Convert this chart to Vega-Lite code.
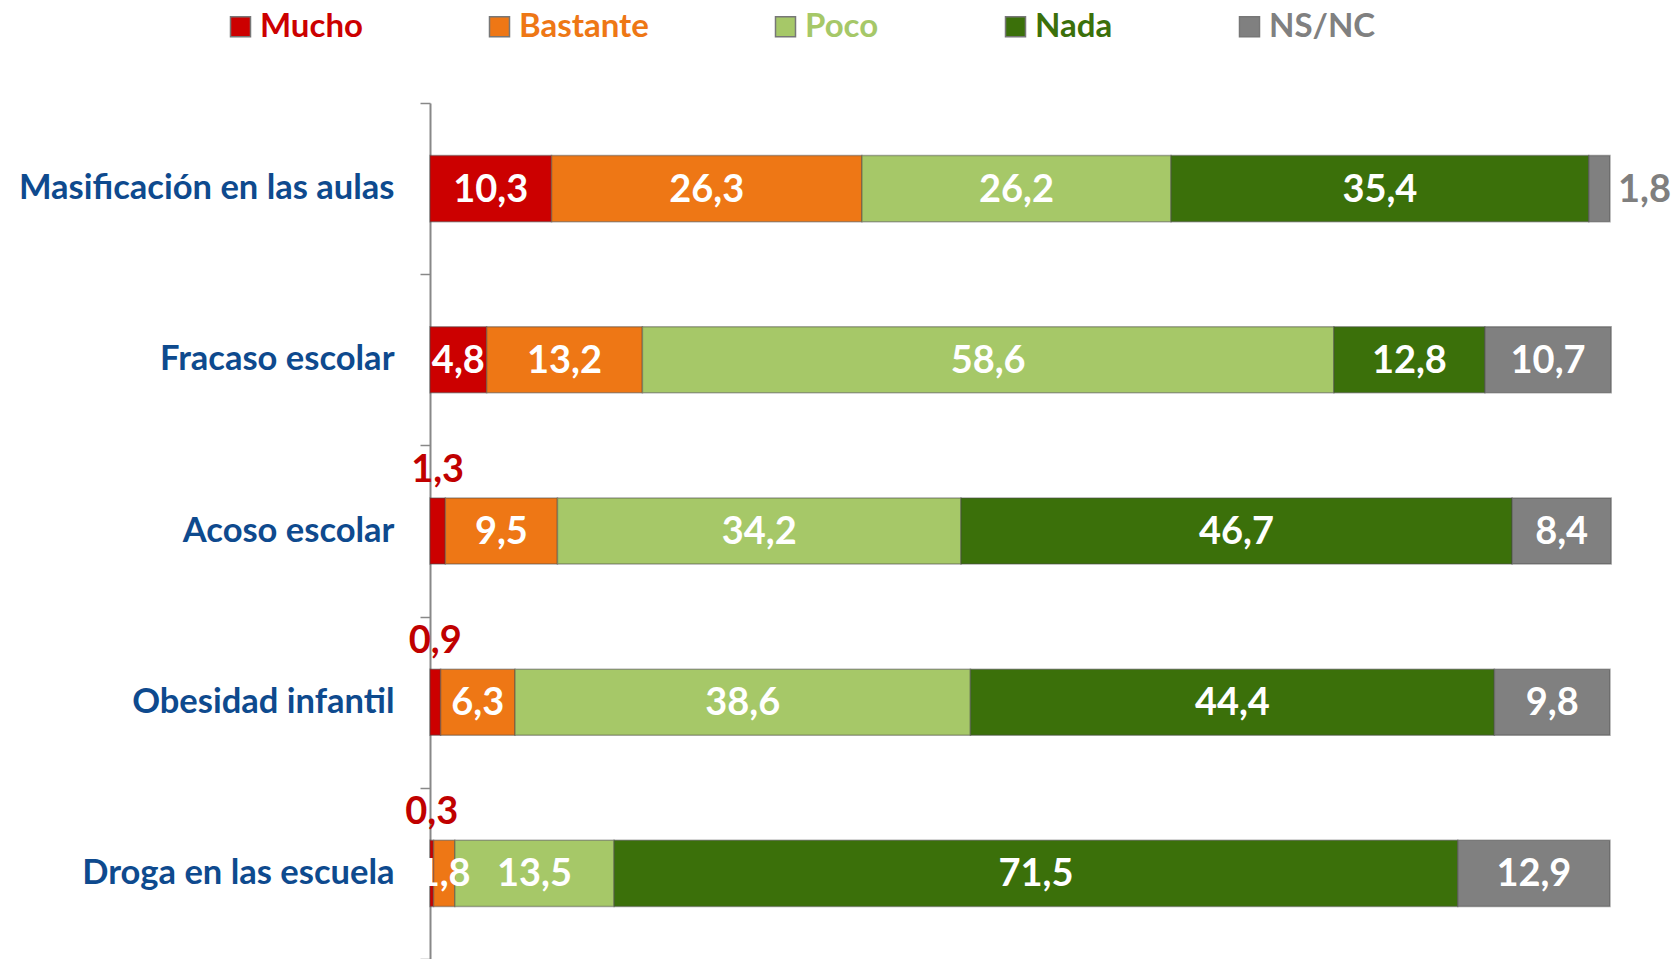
{
  "$schema": "https://vega.github.io/schema/vega-lite/v6.json",
  "autosize": {"type": "none"},
  "width": 1180,
  "height": 856,
  "padding": {"left": 430, "top": 103, "right": 64, "bottom": 0},
  "background": "white",
  "config": {"view": {"stroke": null}, "font": "Lato"},
  "data": {"values": [
    {"cat": "Masificación en las aulas", "series": "Mucho", "value": 10.3},
    {"cat": "Masificación en las aulas", "series": "Bastante", "value": 26.3},
    {"cat": "Masificación en las aulas", "series": "Poco", "value": 26.2},
    {"cat": "Masificación en las aulas", "series": "Nada", "value": 35.4},
    {"cat": "Masificación en las aulas", "series": "NS/NC", "value": 1.8},
    {"cat": "Fracaso escolar", "series": "Mucho", "value": 4.8},
    {"cat": "Fracaso escolar", "series": "Bastante", "value": 13.2},
    {"cat": "Fracaso escolar", "series": "Poco", "value": 58.6},
    {"cat": "Fracaso escolar", "series": "Nada", "value": 12.8},
    {"cat": "Fracaso escolar", "series": "NS/NC", "value": 10.7},
    {"cat": "Acoso escolar", "series": "Mucho", "value": 1.3},
    {"cat": "Acoso escolar", "series": "Bastante", "value": 9.5},
    {"cat": "Acoso escolar", "series": "Poco", "value": 34.2},
    {"cat": "Acoso escolar", "series": "Nada", "value": 46.7},
    {"cat": "Acoso escolar", "series": "NS/NC", "value": 8.4},
    {"cat": "Obesidad infantil", "series": "Mucho", "value": 0.9},
    {"cat": "Obesidad infantil", "series": "Bastante", "value": 6.3},
    {"cat": "Obesidad infantil", "series": "Poco", "value": 38.6},
    {"cat": "Obesidad infantil", "series": "Nada", "value": 44.4},
    {"cat": "Obesidad infantil", "series": "NS/NC", "value": 9.8},
    {"cat": "Droga en las escuela", "series": "Mucho", "value": 0.3},
    {"cat": "Droga en las escuela", "series": "Bastante", "value": 1.8},
    {"cat": "Droga en las escuela", "series": "Poco", "value": 13.5},
    {"cat": "Droga en las escuela", "series": "Nada", "value": 71.5},
    {"cat": "Droga en las escuela", "series": "NS/NC", "value": 12.9}
  ]},
  "transform": [
    {"calculate": "indexof(['Mucho','Bastante','Poco','Nada','NS/NC'], datum.series)", "as": "ord"},
    {"stack": "value", "groupby": ["cat"], "sort": [{"field": "ord", "order": "ascending"}], "as": ["x0", "x1"]},
    {"calculate": "(datum.x0 + datum.x1) / 2", "as": "xm"},
    {"calculate": "replace(format(datum.value, '.1f'), '.', ',')", "as": "lab"}
  ],
  "encoding": {
    "y": {
      "field": "cat", "type": "nominal", "title": null,
      "sort": ["Masificación en las aulas", "Fracaso escolar", "Acoso escolar", "Obesidad infantil", "Droga en las escuela"],
      "scale": {"paddingInner": 0, "paddingOuter": 0},
      "axis": {
        "domainColor": "#888888", "domainWidth": 2,
        "tickColor": "#888888", "tickWidth": 1.5, "tickSize": 10, "tickBand": "extent",
        "labelFont": "Lato", "labelFontSize": 34.5, "labelFontWeight": "bold", "labelColor": "#0E4A8E",
        "labelPadding": 26, "labelLimit": 430
      }
    }
  },
  "layer": [
    {
      "mark": {"type": "bar", "height": {"band": 0.386}, "stroke": "#4a4a4a", "strokeOpacity": 0.45, "strokeWidth": 1.5},
      "encoding": {
        "x": {"field": "x0", "type": "quantitative", "scale": {"domain": [0, 100], "nice": false}, "axis": null},
        "x2": {"field": "x1"},
        "color": {
          "field": "series", "type": "nominal", "title": null,
          "sort": ["Mucho", "Bastante", "Poco", "Nada", "NS/NC"],
          "scale": {"domain": ["Mucho", "Bastante", "Poco", "Nada", "NS/NC"], "range": ["#CC0000", "#EE7715", "#A6C868", "#3B700A", "#808080"]},
          "legend": {
            "orient": "none", "legendX": -206, "legendY": -93, "direction": "horizontal", "columns": 5,
            "columnPadding": 120, "symbolType": "square", "symbolSize": 400, "symbolStrokeWidth": 1.5, "symbolStrokeColor": "#777777",
            "labelFont": "Lato", "labelFontSize": 33, "labelFontWeight": "bold", "labelOffset": 3, "labelLimit": 300,
            "encode": {"labels": {"update": {"fill": {"scale": "color", "field": "value"}}}}
          }
        }
      }
    },
    {
      "transform": [{"filter": "datum.value >= 1.5 && !(datum.series == 'NS/NC' && datum.value < 3)"}],
      "mark": {"type": "text", "color": "white", "font": "Lato", "fontSize": 38, "fontWeight": "bold", "baseline": "middle", "align": "center", "dy": 2},
      "encoding": {
        "x": {"field": "xm", "type": "quantitative"},
        "text": {"field": "lab"}
      }
    },
    {
      "transform": [{"filter": "datum.series == 'Mucho' && datum.value < 1.5"}],
      "mark": {"type": "text", "color": "#C00000", "font": "Lato", "fontSize": 38, "fontWeight": "bold", "baseline": "middle", "align": "center", "dy": -60},
      "encoding": {
        "x": {"field": "xm", "type": "quantitative"},
        "text": {"field": "lab"}
      }
    },
    {
      "transform": [{"filter": "datum.series == 'NS/NC' && datum.value < 3"}],
      "mark": {"type": "text", "color": "#7F7F7F", "font": "Lato", "fontSize": 38, "fontWeight": "bold", "baseline": "middle", "align": "left", "dx": 8, "dy": 2},
      "encoding": {
        "x": {"field": "x1", "type": "quantitative"},
        "text": {"field": "lab"}
      }
    }
  ]
}
